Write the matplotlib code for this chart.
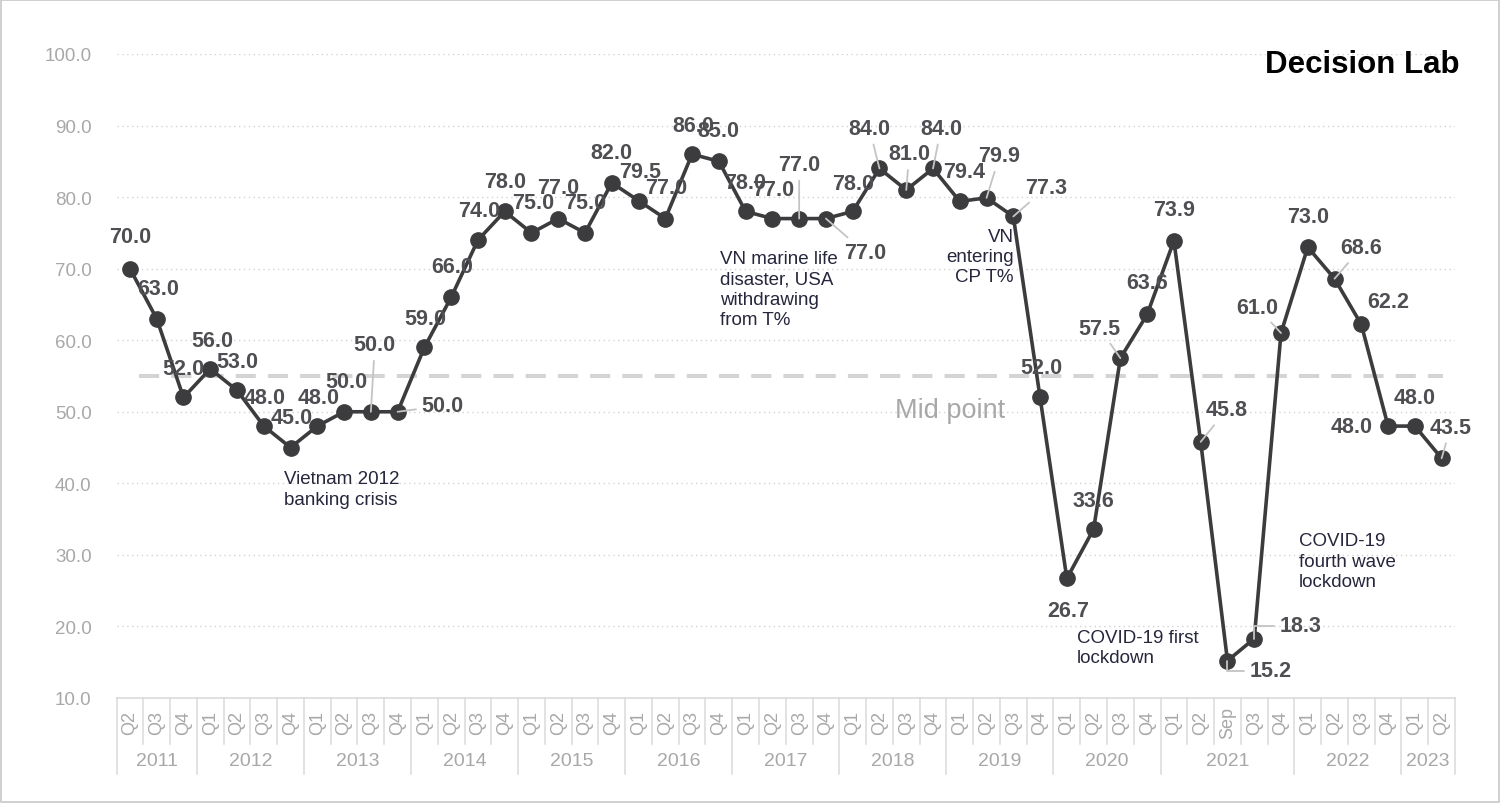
import matplotlib
matplotlib.use('Agg')
import matplotlib.pyplot as plt
from matplotlib.patches import Rectangle

plt.rcParams['font.family'] = ['Liberation Sans', 'DejaVu Sans']

# --- data ---
year_labels = ['2011', '2012', '2013', '2014', '2015', '2016', '2017',
               '2018', '2019', '2020', '2021', '2022', '2023']
year_periods = [
    ['Q2', 'Q3', 'Q4'],
    ['Q1', 'Q2', 'Q3', 'Q4'],
    ['Q1', 'Q2', 'Q3', 'Q4'],
    ['Q1', 'Q2', 'Q3', 'Q4'],
    ['Q1', 'Q2', 'Q3', 'Q4'],
    ['Q1', 'Q2', 'Q3', 'Q4'],
    ['Q1', 'Q2', 'Q3', 'Q4'],
    ['Q1', 'Q2', 'Q3', 'Q4'],
    ['Q1', 'Q2', 'Q3', 'Q4'],
    ['Q1', 'Q2', 'Q3', 'Q4'],
    ['Q1', 'Q2', 'Sep', 'Q3', 'Q4'],
    ['Q1', 'Q2', 'Q3', 'Q4'],
    ['Q1', 'Q2'],
]
values = [70.0, 63.0, 52.0,
          56.0, 53.0, 48.0, 45.0,
          48.0, 50.0, 50.0, 50.0,
          59.0, 66.0, 74.0, 78.0,
          75.0, 77.0, 75.0, 82.0,
          79.5, 77.0, 86.0, 85.0,
          78.0, 77.0, 77.0, 77.0,
          78.0, 84.0, 81.0, 84.0,
          79.4, 79.9, 77.3, 52.0,
          26.7, 33.6, 57.5, 63.6,
          73.9, 45.8, 15.2, 18.3, 61.0,
          73.0, 68.6, 62.2, 48.0,
          48.0, 43.5]
mid_point = 55.0

notes = [
    ('Vietnam 2012\nbanking crisis', 5.74, 39.2, 'left'),
    ('VN marine life\ndisaster, USA\nwithdrawing\nfrom T%', 22.03, 67.15, 'left'),
    ('VN\nentering\nCP T%', 33.02, 71.7, 'right'),
    ('COVID-19 first\nlockdown', 35.37, 17.06, 'left'),
    ('COVID-19\nfourth wave\nlockdown', 43.67, 29.14, 'left'),
]

# label placement (pixels from the point) and which labels get a leader line
label_offsets = [(0, 32), (1, 30), (0, 29), (2, 28), (0, 29), (1, 29), (1, 30),
                 (1, 29), (2, 30), (4, 67), (45, 6), (1, 29), (1, 31), (1, 30),
                 (0, 30), (2, 30), (0, 31), (0, 30), (0, 30), (2, 29), (1, 31),
                 (1, 29), (0, 31), (0, 29), (1, 29), (0, 54), (39, -34), (0, 28),
                 (-10, 40), (3, 36), (8, 40), (4, 30), (13, 42), (33, 29), (1, 30),
                 (1, -32), (0, 29), (-21, 30), (0, 32), (0, 31), (26, 32), (43, -10),
                 (46, 13), (-24, 26), (0, 31), (27, 31), (27, 23), (-36, 0), (0, 29),
                 (9, 31)]
leader_idx = {9, 10, 25, 26, 28, 29, 30, 32, 33, 37, 40, 43, 45, 49}
elbow_idx = {41, 42}

periods = [p for grp in year_periods for p in grp]
period_year = [y for y, grp in zip(year_labels, year_periods) for _ in grp]

LINE = '#3c3c3e'
LABEL = '#4f4f53'
GREY = '#a8a8a8'
TABLE = '#dadada'
NOTE = '#26263c'

fig = plt.figure(figsize=(15, 8.04), dpi=100)
ax = fig.add_axes([0.0777, 0.1306, 0.8923, 0.801])

x = list(range(len(values)))
ax.plot(x, values, color=LINE, lw=2.6, marker='o', ms=11, zorder=3)

ax.set_xlim(-0.5, len(values) - 0.5)
ax.set_ylim(10, 100)
yt = list(range(10, 101, 10))
ax.set_yticks(yt)
ax.set_yticklabels([f'{t:.1f}' for t in yt], color=GREY, fontsize=13.5)
ax.tick_params(axis='y', length=0, pad=18)
ax.set_xticks([])
for s in ax.spines.values():
    s.set_visible(False)

for t in yt[1:]:
    ax.axhline(t, color='#d2d2d2', lw=1, ls=(0, (1, 2.5)), zorder=0)
ax.axhline(10, color=TABLE, lw=1.2, clip_on=False, zorder=1)

# mid point reference line
ax.plot([0.35, 49.05], [mid_point, mid_point], color='#d4d4d4', lw=2.9,
        ls=(0, (5, 3)), zorder=1)
ax.text(28.57, 50.25, 'Mid point', fontsize=19.5, color=GREY, ha='left', va='center')

# point labels
for i, v in enumerate(values):
    ap = None
    if i in leader_idx:
        ap = dict(arrowstyle='-', color='#c4c4c4', lw=1.3, shrinkA=2, shrinkB=0)
    elif i in elbow_idx:
        ap = dict(arrowstyle='-', color='#c4c4c4', lw=1.3, shrinkA=2, shrinkB=0,
                  connectionstyle='angle,angleA=0,angleB=90,rad=0')
    ax.annotate(f'{v:.1f}', (i, v), xytext=label_offsets[i], textcoords='offset pixels',
                ha='center', va='center', fontsize=15.5, fontweight='bold',
                color=LABEL, arrowprops=ap, zorder=4)

for txt, nx, ny, align in notes:
    ax.text(nx, ny, txt, ha=align, va='center', multialignment=align,
            fontsize=13.5, color=NOTE, linespacing=1.25, zorder=2)

# category table under the axis
trans = ax.get_xaxis_transform()
q_bottom, y_bottom = -0.0714, -0.118
for i in range(len(periods) + 1):
    new_year = i == 0 or i == len(periods) or period_year[i] != period_year[i - 1]
    ax.plot([i - 0.5, i - 0.5], [0, y_bottom if new_year else q_bottom],
            transform=trans, color=TABLE, lw=1.1, clip_on=False)
for i, p in enumerate(periods):
    ax.text(i, -0.038, p, rotation=90, ha='center', va='center', transform=trans,
            fontsize=13, color=GREY)
start = 0
for y, grp in zip(year_labels, year_periods):
    ax.text(start + (len(grp) - 1) / 2, -0.0978, y, ha='center', va='center',
            transform=trans, fontsize=14, color=GREY)
    start += len(grp)

fig.text(0.9733, 1 - 65 / 804, 'Decision Lab', ha='right', va='center',
         fontsize=22.5, fontweight='bold', color='black')

fig.patches.append(Rectangle((0.0005, 0.0008), 0.999, 0.9984, transform=fig.transFigure,
                             fill=False, edgecolor='#c8c8c8', lw=1.2))

fig.savefig('out.png', dpi=100, facecolor='white')
